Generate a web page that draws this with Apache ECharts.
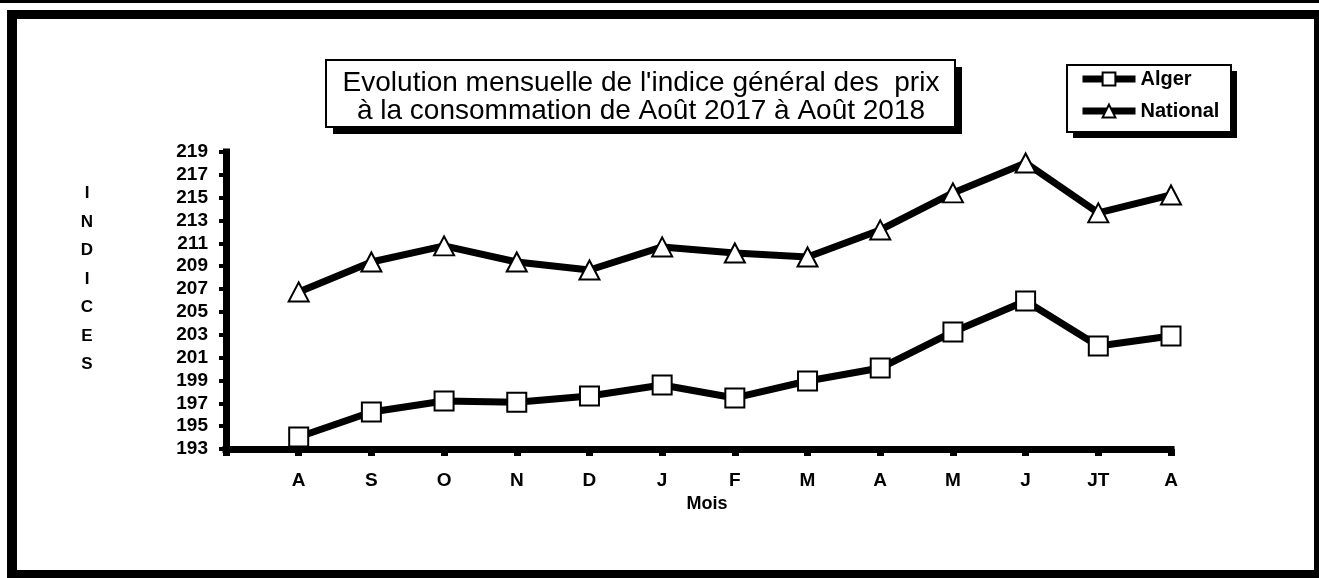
<!DOCTYPE html>
<html>
<head>
<meta charset="utf-8">
<script src="https://cdn.jsdelivr.net/npm/echarts@6/dist/echarts.min.js"></script>
<style>
  html, body { margin: 0; padding: 0; background: #fff; }
  #chart { width: 1319px; height: 578px; }
</style>
</head>
<body>
<div id="chart"></div>
<script>
// mois (Août 2017 -> Août 2018)
const months = ['A', 'S', 'O', 'N', 'D', 'J', 'F', 'M', 'A', 'M', 'J', 'JT', 'A']
const alger = [194.05, 196.24, 197.2, 197.1, 197.64, 198.6, 197.47, 198.95, 200.09, 203.25, 205.96, 202.02, 202.9]
const national = [206.75, 209.37, 210.78, 209.37, 208.67, 210.69, 210.16, 209.81, 212.18, 215.42, 218.04, 213.67, 215.24]
const yTicks = [193, 195, 197, 199, 201, 203, 205, 207, 209, 211, 213, 215, 217, 219]
const titleLines = ["Evolution mensuelle de l'indice général des  prix", 'à la consommation de Août 2017 à Août 2018']
const yName = 'INDICES'

const FONT = '"Liberation Sans", Arial, sans-serif'

function pairs(vals) {
  return vals.map((v, i) => [i, v])
}

const chart = echarts.init(document.getElementById('chart'))

chart.setOption({
  animation: false,
  backgroundColor: '#fff',
  textStyle: { fontFamily: FONT, color: '#000' },
  grid: { left: 226, right: 148, top: 152, bottom: 129 },
  legend: {
    orient: 'vertical',
    left: 1079,
    top: 69,
    padding: 0,
    itemWidth: 53,
    itemHeight: 16,
    itemGap: 12,
    data: ['Alger', 'National'],
    lineStyle: { width: 7, color: '#000' },
    itemStyle: { color: '#fff', borderColor: '#000', borderWidth: 2 },
    textStyle: { fontFamily: FONT, fontSize: 20, fontWeight: 'bold', color: '#000' }
  },
  xAxis: {
    type: 'value',
    min: -1,
    max: 12,
    interval: 1,
    name: 'Mois',
    nameLocation: 'middle',
    nameGap: 43,
    nameTextStyle: { fontFamily: FONT, fontSize: 18, fontWeight: 'bold', color: '#000', padding: [0, 0, 0, 17] },
    splitLine: { show: false },
    axisLine: { onZero: false, lineStyle: { color: '#000', width: 7, cap: 'square' } },
    axisTick: { length: 7, lineStyle: { color: '#000', width: 7 } },
    axisLabel: {
      margin: 22,
      fontFamily: FONT, fontSize: 19, fontWeight: 'bold', color: '#000',
      formatter: v => (v >= 0 && months[v] !== undefined ? months[v] : '')
    }
  },
  yAxis: {
    type: 'value',
    min: 193,
    max: 219,
    splitLine: { show: false },
    axisLine: { show: true, onZero: false, lineStyle: { color: '#000', width: 7, cap: 'square' } },
    axisTick: { show: true, customValues: yTicks, length: 7, lineStyle: { color: '#000', width: 4 } },
    axisLabel: {
      customValues: yTicks,
      margin: 18,
      fontFamily: FONT, fontSize: 19, fontWeight: 'bold', color: '#000'
    }
  },
  graphic: [
    // cadre
    { type: 'rect', shape: { x: 0, y: 0, width: 1319, height: 3 }, style: { fill: '#000' } },
    { type: 'rect', shape: { x: 7, y: 10, width: 1312, height: 9 }, style: { fill: '#000' } },
    { type: 'rect', shape: { x: 7, y: 10, width: 10, height: 568 }, style: { fill: '#000' } },
    { type: 'rect', shape: { x: 7, y: 570, width: 1312, height: 8 }, style: { fill: '#000' } },
    { type: 'rect', shape: { x: 1314, y: 10, width: 5, height: 568 }, style: { fill: '#000' } },
    // titre
    { type: 'rect', shape: { x: 333, y: 67, width: 629, height: 67 }, style: { fill: '#000' } },
    { type: 'rect', shape: { x: 326, y: 60, width: 629, height: 67 }, style: { fill: '#fff', stroke: '#000', lineWidth: 2 } },
    {
      type: 'text', x: 641, y: 97,
      style: {
        text: titleLines.join('\n'), align: 'center', verticalAlign: 'middle',
        fontFamily: FONT, fontSize: 28, lineHeight: 28, fill: '#000'
      }
    },
    // nom de l'axe vertical
    {
      type: 'text', x: 87, y: 279,
      style: {
        text: yName.split('').join('\n'), align: 'center', verticalAlign: 'middle',
        fontFamily: FONT, fontSize: 17, fontWeight: 'bold', lineHeight: 28.5, fill: '#000'
      }
    },
    // légende
    { type: 'rect', shape: { x: 1073, y: 71, width: 164, height: 67 }, style: { fill: '#000' } },
    { type: 'rect', shape: { x: 1067, y: 65, width: 164, height: 67 }, style: { fill: '#fff', stroke: '#000', lineWidth: 2 } }
  ],
  series: [
    {
      name: 'Alger',
      type: 'line',
      data: pairs(alger),
      symbol: 'rect',
      symbolSize: 19,
      itemStyle: { color: '#fff', borderColor: '#000', borderWidth: 2 },
      lineStyle: { color: '#000', width: 7 },
      z: 3
    },
    {
      name: 'National',
      type: 'line',
      data: pairs(national),
      symbol: 'triangle',
      symbolSize: [20, 19],
      itemStyle: { color: '#fff', borderColor: '#000', borderWidth: 2 },
      lineStyle: { color: '#000', width: 7 },
      z: 3
    }
  ]
})

window.addEventListener('resize', () => chart.resize())
</script>
</body>
</html>
